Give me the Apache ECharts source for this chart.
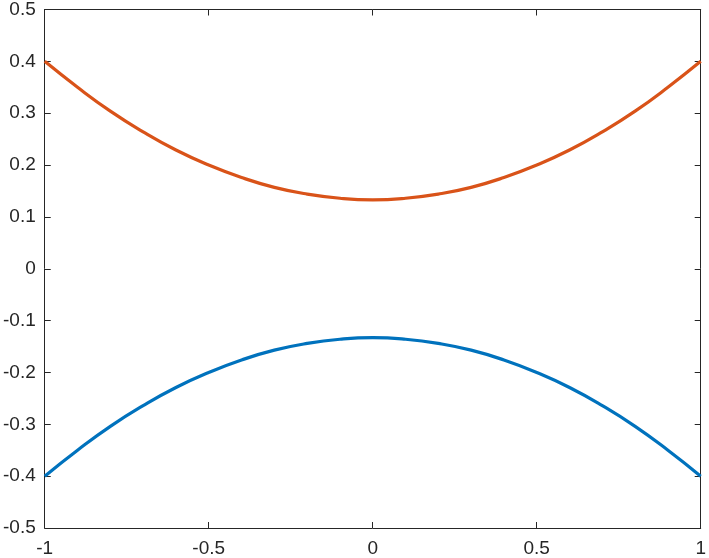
<!DOCTYPE html>
<html>
<head>
<meta charset="utf-8">
<script src="https://cdn.jsdelivr.net/npm/echarts@6/dist/echarts.min.js"></script>
<style>
  html, body { margin: 0; padding: 0; background: #fff; }
  #chart { width: 709px; height: 558px; }
</style>
</head>
<body>
<div id="chart"></div>
<script>
// x positions and the two curves
const xs = [-1, -0.9, -0.8, -0.7, -0.6, -0.5, -0.4, -0.3, -0.2, -0.1, 0,
            0.1, 0.2, 0.3, 0.4, 0.5, 0.6, 0.7, 0.8, 0.9, 1];
const upper = [0.400, 0.350, 0.304, 0.264, 0.229, 0.200, 0.176, 0.157, 0.144, 0.136, 0.133,
               0.136, 0.144, 0.157, 0.176, 0.200, 0.229, 0.264, 0.304, 0.350, 0.400];
const lower = [-0.400, -0.350, -0.304, -0.264, -0.229, -0.200, -0.176, -0.157, -0.144, -0.136, -0.133,
               -0.136, -0.144, -0.157, -0.176, -0.200, -0.229, -0.264, -0.304, -0.350, -0.400];

const xTicks = [-1, -0.5, 0, 0.5, 1];
const yTicks = [-0.5, -0.4, -0.3, -0.2, -0.1, 0, 0.1, 0.2, 0.3, 0.4, 0.5];

const axisColor = '#262626';
const font = 'Liberation Sans, Arial, sans-serif';

const chart = echarts.init(document.getElementById('chart'));

// 主轴 + 对面的镜像轴，做出 MATLAB 那种封闭框
const axisBase = (show) => ({
  type: 'value',
  axisLine: { show: true, onZero: false, lineStyle: { color: axisColor, width: 1 } },
  axisTick: { show: true, inside: true, length: 6, lineStyle: { color: axisColor } },
  splitLine: { show: false },
  axisLabel: {
    show: show,
    color: axisColor,
    fontSize: 19,
    fontFamily: font,
    showMinLabel: true,
    showMaxLabel: true
  }
});

chart.setOption({
  animation: false,
  grid: { left: 44, right: 7.5, top: 9.3, bottom: 29.7, containLabel: false },
  xAxis: [
    Object.assign(axisBase(true), {
      position: 'bottom', min: -1, max: 1, interval: 0.5,
      axisLabel: Object.assign(axisBase(true).axisLabel, { margin: 11 })
    }),
    Object.assign(axisBase(false), { position: 'top', min: -1, max: 1, interval: 0.5 })
  ],
  yAxis: [
    Object.assign(axisBase(true), {
      position: 'left', min: -0.5, max: 0.5, interval: 0.1,
      axisLabel: Object.assign(axisBase(true).axisLabel, {
        margin: 9,
        formatter: (v) => String(Math.round(v * 10) / 10)
      })
    }),
    Object.assign(axisBase(false), { position: 'right', min: -0.5, max: 0.5, interval: 0.1 })
  ],
  series: [
    {
      type: 'line',
      data: xs.map((x, i) => [x, lower[i]]),
      smooth: true,
      showSymbol: false,
      lineStyle: { color: '#0072BD', width: 3.2 }
    },
    {
      type: 'line',
      data: xs.map((x, i) => [x, upper[i]]),
      smooth: true,
      showSymbol: false,
      lineStyle: { color: '#D95319', width: 3.2 }
    }
  ]
});
</script>
</body>
</html>
